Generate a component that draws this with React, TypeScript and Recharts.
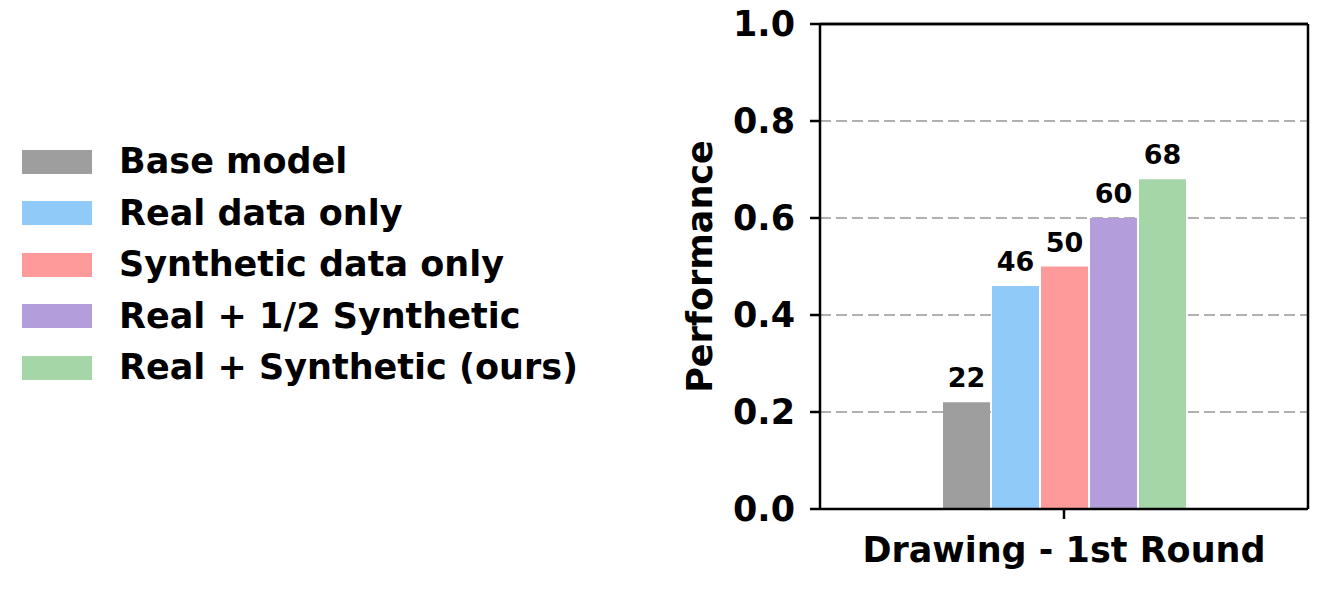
import React from "react";
import { BarChart, Bar, XAxis, YAxis, CartesianGrid, LabelList, ReferenceLine } from "recharts";

// chart values
const categories = ["Drawing - 1st Round"];
const seriesNames = [
  "Base model",
  "Real data only",
  "Synthetic data only",
  "Real + 1/2 Synthetic",
  "Real + Synthetic (ours)",
];
const seriesColors = ["#9e9e9e", "#90caf9", "#ff9a9a", "#b39ddb", "#a5d6a7"];
const baseModel = [0.22];
const realOnly = [0.46];
const syntheticOnly = [0.5];
const realHalfSynthetic = [0.6];
const realSynthetic = [0.68];
const yTicks = [0, 0.2, 0.4, 0.6, 0.8, 1.0];

const seriesValues = [baseModel, realOnly, syntheticOnly, realHalfSynthetic, realSynthetic];

const data = categories.map((name, i) => {
  const row: Record<string, string | number> = { name };
  seriesValues.forEach((vals, s) => {
    row[`s${s}`] = vals[i];
  });
  return row;
});

const FONT = "'DejaVu Sans', sans-serif";

function YLabel(props: any) {
  const { viewBox } = props;
  const cy = viewBox.y + viewBox.height / 2;
  return (
    <text
      x={712}
      y={cy}
      transform={`rotate(-90, 712, ${cy})`}
      textAnchor="middle"
      fontFamily={FONT}
      fontWeight="bold"
      fontSize={35}
      fill="#000"
    >
      Performance
    </text>
  );
}

function Legend() {
  return (
    <div
      style={{
        position: "absolute",
        left: 22,
        top: 136,
        fontFamily: FONT,
        fontWeight: "bold",
        fontSize: 35,
        color: "#000",
      }}
    >
      {seriesNames.map((n, i) => (
        <div key={n} style={{ display: "flex", alignItems: "center", height: 51.5 }}>
          <div style={{ width: 70, height: 24, background: seriesColors[i], marginRight: 27 }} />
          <span style={{ lineHeight: 1, whiteSpace: "nowrap" }}>{n}</span>
        </div>
      ))}
    </div>
  );
}

export default function App() {
  return (
    <div style={{ position: "absolute", left: 0, top: 0, width: 1326, height: 589, background: "#fff" }}>
      <BarChart
        width={1326}
        height={589}
        data={data}
        margin={{ top: 23, right: 17, left: 0, bottom: 0 }}
        barGap={2}
        barSize={47}
      >
        <CartesianGrid
          vertical={false}
          stroke="#b0b0b0"
          strokeWidth={2}
          strokeDasharray="11 5"
        />
        <XAxis
          dataKey="name"
          height={80}
          axisLine={{ stroke: "#000", strokeWidth: 2.5 }}
          tickLine={{ stroke: "#000", strokeWidth: 2.5 }}
          tickSize={10}
          tickMargin={18}
          tick={{ fill: "#000", fontSize: 35, fontWeight: "bold", fontFamily: FONT }}
        />
        <XAxis
          xAxisId="top"
          dataKey="name"
          orientation="top"
          height={1}
          tick={false}
          tickLine={false}
          axisLine={{ stroke: "#000", strokeWidth: 2.5 }}
        />
        <YAxis
          width={820}
          domain={[0, 1]}
          ticks={yTicks}
          interval={0}
          tickFormatter={(v: number) => v.toFixed(1)}
          axisLine={{ stroke: "#000", strokeWidth: 2.5 }}
          tickLine={{ stroke: "#000", strokeWidth: 2.5 }}
          tickSize={10}
          tickMargin={15}
          tick={{ fill: "#000", fontSize: 35, fontWeight: "bold", fontFamily: FONT }}
          label={<YLabel />}
        />
        <YAxis
          yAxisId="right"
          orientation="right"
          width={1}
          domain={[0, 1]}
          tick={false}
          tickLine={false}
          axisLine={{ stroke: "#000", strokeWidth: 2.5 }}
        />
        <ReferenceLine y={1} stroke="#000" strokeWidth={2.5} />
        {seriesNames.map((n, i) => (
          <Bar key={n} dataKey={`s${i}`} name={n} fill={seriesColors[i]} isAnimationActive={false}>
            <LabelList
              dataKey={`s${i}`}
              position="top"
              offset={15}
              formatter={(v: any) => Math.round(Number(v) * 100)}
              style={{ fill: "#000", fontSize: 27, fontWeight: "bold", fontFamily: FONT }}
            />
          </Bar>
        ))}
      </BarChart>
      <Legend />
    </div>
  );
}
